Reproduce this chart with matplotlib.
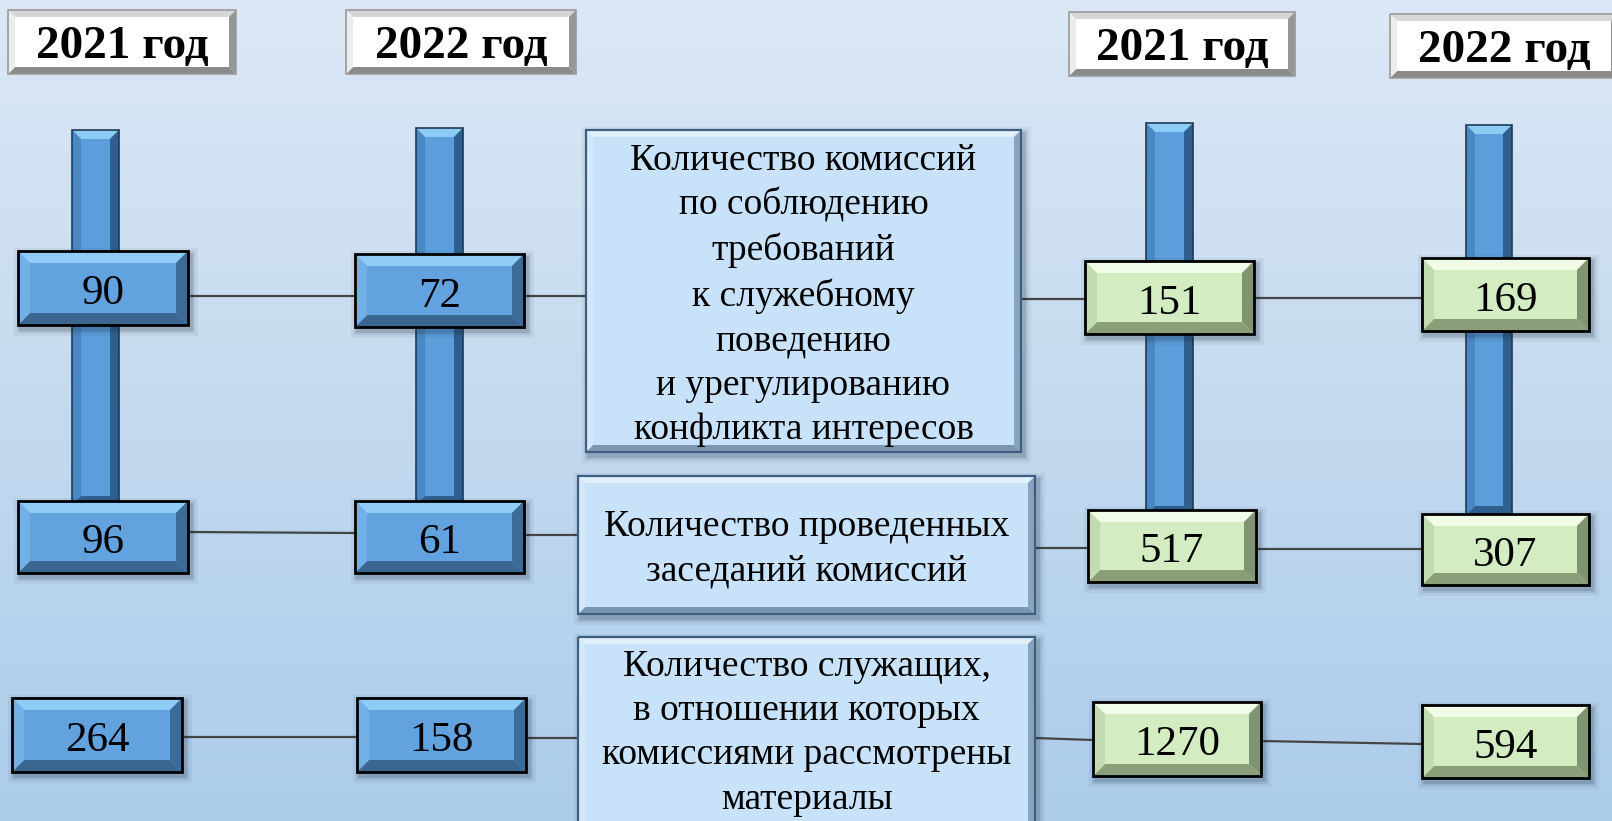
import matplotlib
matplotlib.use('Agg')
import matplotlib.pyplot as plt
import numpy as np
from matplotlib.patches import Polygon, Rectangle

plt.rcParams['font.family'] = ['Liberation Serif', 'DejaVu Serif']

# data
years = ['2021 год', '2022 год', '2021 год', '2022 год']
left_2021 = [90, 96, 264]
left_2022 = [72, 61, 158]
right_2021 = [151, 517, 1270]
right_2022 = [169, 307, 594]
labels = ['Количество комиссий\nпо соблюдению\nтребований\nк служебному\nповедению\nи урегулированию\nконфликта интересов',
          'Количество проведенных\nзаседаний комиссий',
          'Количество служащих,\nв отношении которых\nкомиссиями рассмотрены\nматериалы']

# layout (pixels, y downwards)
W, H = 1612, 821
header_boxes = [(8, 10, 236, 74), (346, 10, 576, 74), (1069, 12, 1295, 76), (1390, 14, 1618, 78)]
pipes = [(72, 130, 119, 505), (416, 128, 463, 505), (1146, 123, 1193, 515), (1466, 125, 1512, 515)]
col_boxes = [
    [(18, 251, 188, 325), (18, 501, 188, 573), (12, 698, 182, 772)],
    [(355, 254, 524, 327), (355, 501, 524, 573), (357, 698, 526, 772)],
    [(1085, 261, 1254, 334), (1088, 510, 1256, 582), (1093, 702, 1261, 776)],
    [(1422, 258, 1589, 331), (1422, 514, 1589, 585), (1422, 705, 1589, 778)],
]
label_boxes = [(586, 130, 1021, 452), (578, 476, 1035, 614), (578, 637, 1035, 830)]
# connector heights for each row: (start y, end y) per segment
link_y = [
    [(296, 296), (296, 296), (299, 299), (298, 298)],
    [(532, 533), (535, 535), (548, 548), (549, 549)],
    [(737, 737), (738, 738), (738, 740), (741, 744)],
]

BLUE = dict(face='#62a2df', top='#8fcdf7', left='#73b0e6', right='#3d6b98', bottom='#3a6690')
GREEN = dict(face='#d3ecc2', top='#f0fbe8', left='#c2dbb0', right='#7f9572', bottom='#8a9e7a')
WHITE = dict(face='#ffffff', top='#d6d6d6', left='#ececec', right='#969696', bottom='#8a8a8a')
LABEL = dict(face='#c8e2f9', top='#e2f0fc', left='#d4e8fa', right='#8aa4bd', bottom='#7d96b0')
PIPE = dict(face='#5c9ddb', top='#8ccbf4', left='#4a88c4', right='#2f5f8f', bottom='#2f5f8f')

fig = plt.figure(figsize=(W / 100, H / 100), dpi=100)
ax = fig.add_axes([0, 0, 1, 1])
ax.set_xlim(0, W)
ax.set_ylim(H, 0)
ax.axis('off')

# background gradient
top_c = np.array([220, 232, 245]) / 255
bot_c = np.array([172, 204, 234]) / 255
t = np.linspace(0, 1, 256)[:, None]
grad = (top_c * (1 - t) + bot_c * t)[:, None, :]
ax.imshow(grad, extent=[0, W, H, 0], aspect='auto', zorder=0)


def bevel_box(b, c, bw=12, edge='black', lw=2.0, z=3, shadow=True):
    x0, y0, x1, y1 = b
    if shadow:
        for k, a in [(7, 0.06), (4, 0.1), (2, 0.15)]:
            ax.add_patch(Rectangle((x0 - k + 3, y0 - k + 4), x1 - x0 + 2 * k, y1 - y0 + 2 * k,
                                   color='#1a2a3a', alpha=a, lw=0, zorder=z - 0.5))
    ax.add_patch(Rectangle((x0, y0), x1 - x0, y1 - y0, facecolor=c['face'], lw=0, zorder=z))
    ax.add_patch(Polygon([(x0, y0), (x1, y0), (x1 - bw, y0 + bw), (x0 + bw, y0 + bw)],
                         facecolor=c['top'], lw=0, zorder=z + 0.1))
    ax.add_patch(Polygon([(x0, y1), (x1, y1), (x1 - bw, y1 - bw), (x0 + bw, y1 - bw)],
                         facecolor=c['bottom'], lw=0, zorder=z + 0.1))
    ax.add_patch(Polygon([(x0, y0), (x0 + bw, y0 + bw), (x0 + bw, y1 - bw), (x0, y1)],
                         facecolor=c['left'], lw=0, zorder=z + 0.1))
    ax.add_patch(Polygon([(x1, y0), (x1 - bw, y0 + bw), (x1 - bw, y1 - bw), (x1, y1)],
                         facecolor=c['right'], lw=0, zorder=z + 0.1))
    ax.add_patch(Rectangle((x0, y0), x1 - x0, y1 - y0, fill=False, edgecolor=edge, lw=lw, zorder=z + 0.2))


# pipes
for p in pipes:
    bevel_box(p, PIPE, bw=9, edge='#1f3a55', lw=1.2, z=1.5, shadow=False)

# connectors
for r in range(3):
    chain = [col_boxes[0][r], col_boxes[1][r], label_boxes[r], col_boxes[2][r], col_boxes[3][r]]
    for (a, b), (ya, yb) in zip(zip(chain[:-1], chain[1:]), link_y[r]):
        ax.plot([a[2], b[0]], [ya, yb], color='#454545', lw=1.6, zorder=1.8)

# header boxes
for b, s in zip(header_boxes, years):
    bevel_box(b, WHITE, bw=7, edge='#9a9a9a', lw=1.2, z=3, shadow=False)
    ax.text((b[0] + b[2]) / 2, (b[1] + b[3]) / 2 + 5, s, ha='center', va='center',
            fontsize=34, fontweight='bold', color='black', zorder=5)

# value boxes
all_vals = [left_2021, left_2022, right_2021, right_2022]
for ci, (boxes, vals) in enumerate(zip(col_boxes, all_vals)):
    style = BLUE if ci < 2 else GREEN
    for b, v in zip(boxes, vals):
        bevel_box(b, style, bw=12, edge='black', lw=2.0, z=3)
        ax.text((b[0] + b[2]) / 2, (b[1] + b[3]) / 2 + 6, str(v), ha='center', va='center',
                fontsize=31, color='black', zorder=5)

# label boxes
for b, s in zip(label_boxes, labels):
    bevel_box(b, LABEL, bw=7, edge='#3e5f80', lw=1.6, z=3)
    bottom = min(b[3], H)
    ax.text((b[0] + b[2]) / 2, (b[1] + bottom) / 2 + 4, s, ha='center', va='center',
            fontsize=27, color='black', linespacing=1.37, zorder=5)

fig.savefig('out.png', dpi=100)
